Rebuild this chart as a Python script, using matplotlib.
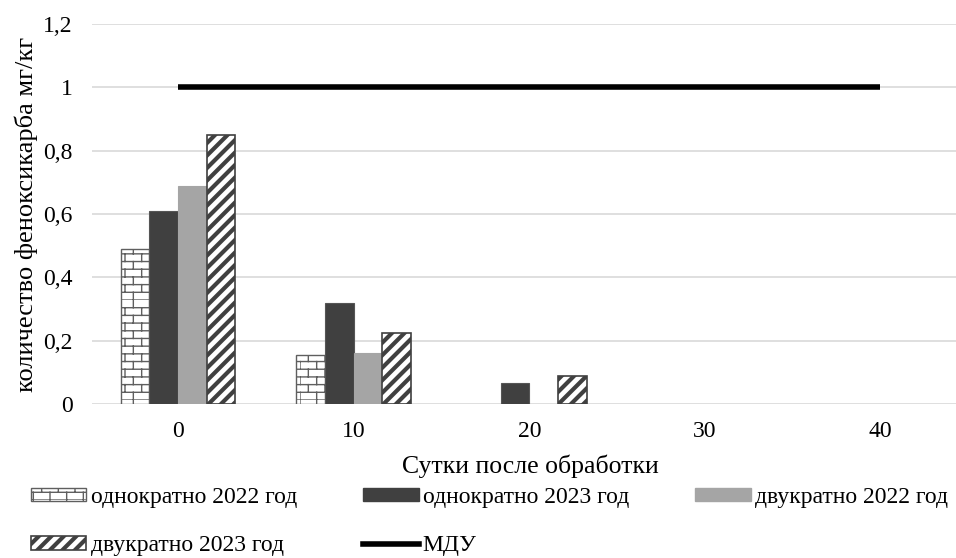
import numpy as np
import matplotlib
matplotlib.use("Agg")
import matplotlib.pyplot as plt
import matplotlib.hatch as mhatch
from matplotlib.path import Path
from matplotlib.patches import Patch
from matplotlib.lines import Line2D
import warnings
warnings.filterwarnings("ignore")

# ---- data ----
categories = ["0", "10", "20", "30", "40"]
once_2022 = [0.49, 0.155, 0, 0, 0]
once_2023 = [0.61, 0.32, 0.065, 0, 0]
twice_2022 = [0.69, 0.16, 0, 0, 0]
twice_2023 = [0.85, 0.225, 0.09, 0, 0]
mdu = [1, 1, 1, 1, 1]
series_labels = ["однократно 2022 год", "однократно 2023 год",
                 "двукратно 2022 год", "двукратно 2023 год", "МДУ"]
y_ticks = [0, 0.2, 0.4, 0.6, 0.8, 1.0, 1.2]
y_tick_labels = ["0", "0,2", "0,4", "0,6", "0,8", "1", "1,2"]


# ---- custom hatches ----
class BrickHatch(mhatch.HatchPatternBase):
    def __init__(self, hatch, density):
        self.on = hatch.count('b') > 0
        self.rows = 13
        self.cols = 6
        if self.on:
            self.num_vertices = self.rows * 2 + self.rows * self.cols * 2
        else:
            self.num_vertices = 0

    def set_vertices_and_codes(self, vertices, codes):
        v = []
        h = 1.0 / self.rows
        w = 1.0 / self.cols
        for r in range(self.rows):
            y = r * h
            v.append((0.0, y)); v.append((1.0, y))
        for r in range(self.rows):
            y0 = r * h
            off = 0.0 if r % 2 == 0 else w / 2
            for c in range(self.cols):
                x = c * w + off
                v.append((x, y0)); v.append((x, y0 + h))
        vertices[:] = np.array(v)
        codes[0::2] = Path.MOVETO
        codes[1::2] = Path.LINETO


class DiagHatch(mhatch.HatchPatternBase):
    def __init__(self, hatch, density):
        self.num_lines = 16 if hatch.count('d') > 0 else 0
        self.num_vertices = (self.num_lines + 1) * 2 if self.num_lines else 0

    def set_vertices_and_codes(self, vertices, codes):
        steps = np.linspace(-0.5, 0.5, self.num_lines + 1)
        vertices[0::2, 0] = 0.0 + steps
        vertices[0::2, 1] = 0.0 - steps
        vertices[1::2, 0] = 1.0 + steps
        vertices[1::2, 1] = 1.0 - steps
        codes[0::2] = Path.MOVETO
        codes[1::2] = Path.LINETO


mhatch._hatch_types.append(BrickHatch)
mhatch._hatch_types.append(DiagHatch)

plt.rcParams['font.family'] = ['Liberation Serif', 'DejaVu Serif']
FS = 17
FL = 18.5

fig = plt.figure(figsize=(9.56, 5.58), dpi=100)
ax = fig.add_axes([92 / 956, 1 - 404 / 558, 1 - 92 / 956, (404 - 24) / 558])

x = np.arange(len(categories))
bw = 0.163
offs = np.array([-1.5, -0.5, 0.5, 1.5]) * bw

brick_c = "#5f5f5f"
dark_c = "#404040"
gray_c = "#a5a5a5"

b1 = ax.bar(x + offs[0], once_2022, bw, facecolor="white", edgecolor=brick_c,
            hatch='b', linewidth=1.0, zorder=3)
b2 = ax.bar(x + offs[1], once_2023, bw, color=dark_c, edgecolor="#555555",
            linewidth=0.8, zorder=3)
b3 = ax.bar(x + offs[2], twice_2022, bw, color=gray_c, edgecolor=gray_c,
            linewidth=0.8, zorder=3)
b4 = ax.bar(x + offs[3], twice_2023, bw, facecolor="white", edgecolor=dark_c,
            hatch='d', linewidth=1.2, zorder=3)
for p in b1:
    if hasattr(p, "set_hatch_linewidth"):
        p.set_hatch_linewidth(1.0)
for p in b4:
    if hasattr(p, "set_hatch_linewidth"):
        p.set_hatch_linewidth(3.0)
for bars, vals in ((b1, once_2022), (b2, once_2023), (b3, twice_2022), (b4, twice_2023)):
    for p, v in zip(bars, vals):
        if v == 0:
            p.set_visible(False)

ax.plot(x, mdu, color="black", linewidth=4, solid_capstyle="butt", zorder=4)

ax.set_xlim(-0.49, 4.43)
ax.set_ylim(0, 1.2)
ax.set_yticks(y_ticks)
ax.set_yticklabels(y_tick_labels, fontsize=FS)
ax.set_xticks(x)
ax.set_xticklabels(categories, fontsize=FS)
ax.tick_params(axis='both', length=0)
ax.tick_params(axis='y', pad=14)
ax.tick_params(axis='x', pad=12)
ax.grid(axis='y', color="#d9d9d9", linewidth=1.2, zorder=0)
ax.set_axisbelow(True)
for s in ax.spines.values():
    s.set_visible(False)

ax.set_ylabel("количество феноксикарба мг/кг", fontsize=19)
ax.yaxis.set_label_coords(-(92 - 38) / (956 - 92), 0.5)
ax.set_xlabel("Сутки после обработки", fontsize=FL)
ax.xaxis.set_label_coords((530 - 92) / (956 - 92), -(455 - 404) / (404 - 24))
ax.xaxis.label.set_va("top")

# legend
h1 = Patch(facecolor="white", edgecolor=brick_c, hatch='b', linewidth=1.0)
h2 = Patch(facecolor=dark_c, edgecolor=dark_c)
h3 = Patch(facecolor=gray_c, edgecolor=gray_c)
h4 = Patch(facecolor="white", edgecolor=dark_c, hatch='d', linewidth=1.2)
h5 = Line2D([0], [0], color="black", linewidth=4)
handles = [h1, h4, h2, h5, h3]
labels = [series_labels[0], series_labels[3], series_labels[1], series_labels[4], series_labels[2]]
leg = fig.legend(handles, labels, ncol=3, loc="upper left",
                 bbox_to_anchor=(31 / 956, 1 - 487 / 558), frameon=False,
                 fontsize=FS, handlelength=2.35, handleheight=0.5, handletextpad=0.18,
                 columnspacing=2.8, labelspacing=1.16, borderaxespad=0, borderpad=0)
for lh in leg.legend_handles:
    if hasattr(lh, "get_hatch") and hasattr(lh, "set_hatch_linewidth"):
        if lh.get_hatch() == 'd':
            lh.set_hatch_linewidth(3.0)
        elif lh.get_hatch() == 'b':
            lh.set_hatch_linewidth(1.0)

fig.savefig("out.png", dpi=100)
